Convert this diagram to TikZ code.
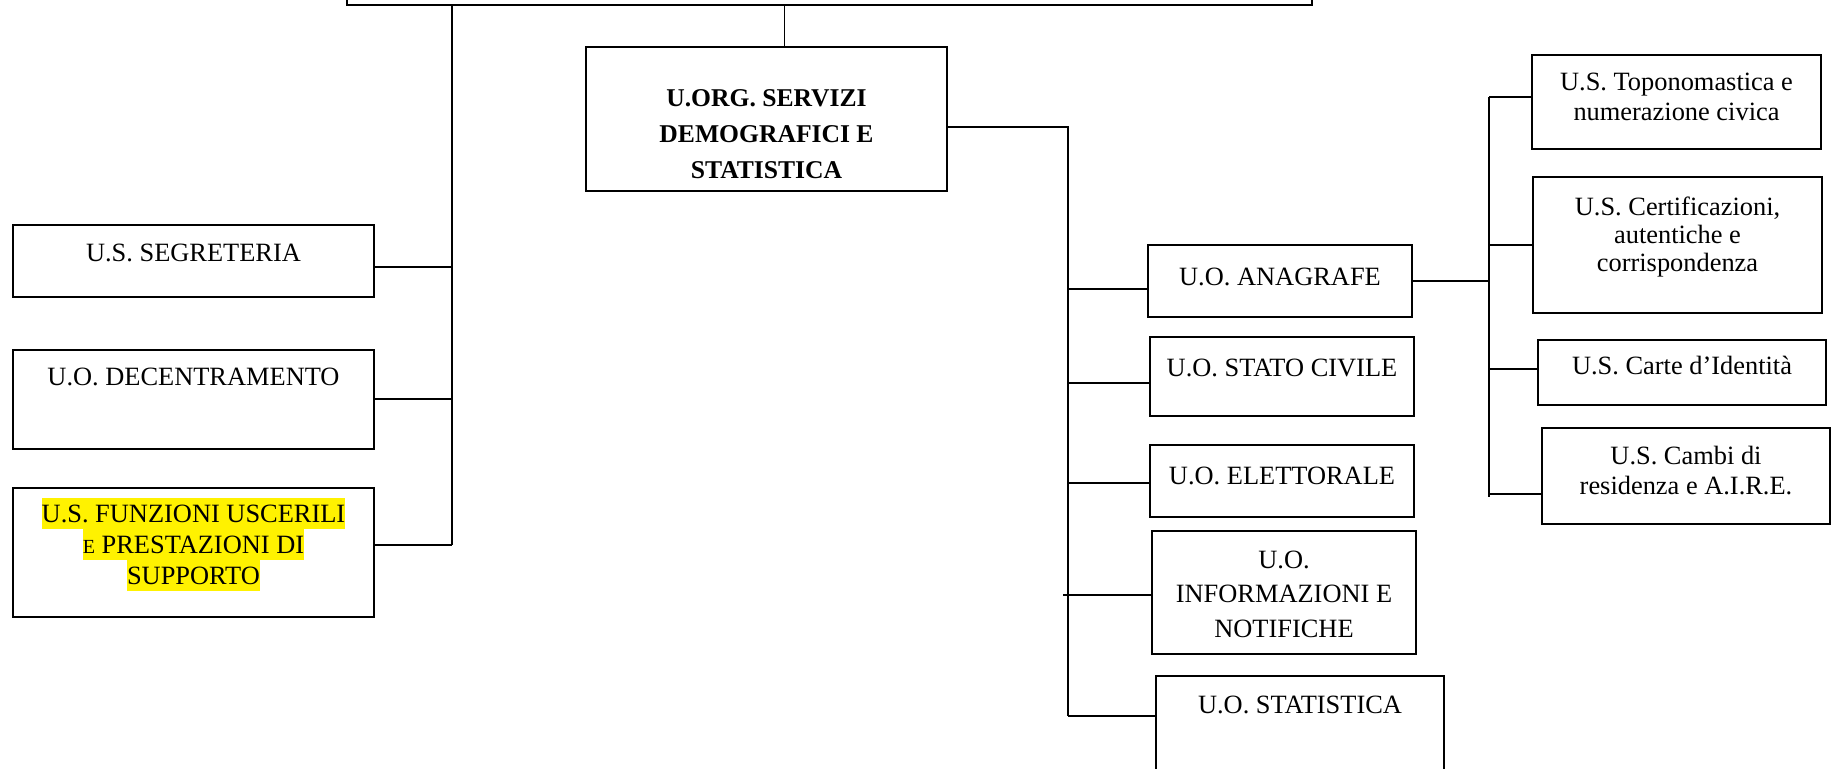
\documentclass[tikz,border=0pt]{standalone}
\usepackage{fontspec}
\setmainfont{Liberation Serif}
\usepackage{xcolor}
\usetikzlibrary{positioning, fit, calc}
\tikzset{
    ufficio/.style={rectangle, draw=black, line width=0.8pt, inner sep=0pt},
    testo/.style={anchor=base, align=center, inner sep=0pt,
        font=\fontsize{13.2}{15.5}\selectfont},
    testobold/.style={testo, font=\fontsize{12.8}{18}\selectfont\bfseries},
    linea/.style={line width=0.8pt},
}
\newcommand{\evid}[1]{{\setlength{\fboxsep}{0pt}\colorbox{yellow}{\rule[-3.5pt]{0pt}{15.5pt}#1}}}

\begin{document}
\begin{tikzpicture}[x=0.5pt, y=-0.5pt]
    \useasboundingbox (0,0) rectangle (1831,769);
    \clip (0,0) rectangle (1831,769);

    % box di vertice (tagliato in alto) e unita' organizzativa
    % (testi su piu' righe: base = ultima riga)
    \node[ufficio, fit={(347,-40) (1312,5)}] (direzione) {};
    \node[ufficio, fit={(586,47) (947,191)}] (servizi) {};
    \node[testobold] (servizi-t) at ($(servizi.north)+(0,132)$) {U.ORG. SERVIZI\\DEMOGRAFICI E\\STATISTICA};

    % colonna a sinistra
    \node[ufficio, fit={(13,225) (374,297)}] (segreteria) {};
    \node[testo] (segreteria-t) at ($(segreteria.north)+(0,37)$) {U.S. SEGRETERIA};
    \node[ufficio, fit={(13,350) (374,449)}] (decentramento) {};
    \node[testo] (decentramento-t) at ($(decentramento.north)+(0,36)$) {U.O. DECENTRAMENTO};
    \node[ufficio, fit={(13,488) (374,617)}] (funzioni) {};
    \node[testo] (funzioni-t) at ($(funzioni.north)+(0,97)$) {\evid{U.S. FUNZIONI USCERILI}\\\evid{{\fontsize{10}{12}\selectfont E} PRESTAZIONI DI}\\\evid{SUPPORTO}};

    % colonna centrale
    \node[ufficio, fit={(1148,245) (1412,317)}] (anagrafe) {};
    \node[testo] (anagrafe-t) at ($(anagrafe.north)+(0,41)$) {U.O. ANAGRAFE};
    \node[ufficio, fit={(1150,337) (1414,416)}] (statocivile) {};
    \node[testo] (statocivile-t) at ($(statocivile.north)+(0,40)$) {U.O. STATO CIVILE};
    \node[ufficio, fit={(1150,445) (1414,517)}] (elettorale) {};
    \node[testo] (elettorale-t) at ($(elettorale.north)+(0,40)$) {U.O. ELETTORALE};
    \node[ufficio, fit={(1152,531) (1416,654)}] (informazioni) {};
    \node[testo, font=\fontsize{13.2}{17.25}\selectfont] (informazioni-t) at ($(informazioni.north)+(0,107)$) {U.O.\\INFORMAZIONI E\\NOTIFICHE};
    \node[ufficio, fit={(1156,676) (1444,800)}] (statistica) {};
    \node[testo] (statistica-t) at ($(statistica.north)+(0,38)$) {U.O. STATISTICA};

    % colonna a destra (servizi dell'anagrafe)
    \node[ufficio, fit={(1532,55) (1821,149)}] (toponomastica) {};
    \node[testo, font=\fontsize{13.2}{15}\selectfont] (toponomastica-t) at ($(toponomastica.north)+(0,66)$) {U.S. Toponomastica e\\numerazione civica};
    \node[ufficio, fit={(1533,177) (1822,313)}] (certificazioni) {};
    \node[testo, font=\fontsize{13.2}{14}\selectfont] (certificazioni-t) at ($(certificazioni.north)+(0,95)$) {U.S. Certificazioni,\\autentiche e\\corrispondenza};
    \node[ufficio, fit={(1538,340) (1826,405)}] (carte) {};
    \node[testo] (carte-t) at ($(carte.north)+(0,35)$) {U.S. Carte d’Identità};
    \node[ufficio, fit={(1542,428) (1830,524)}] (cambi) {};
    \node[testo, font=\fontsize{13.2}{15}\selectfont] (cambi-t) at ($(cambi.north)+(0,67)$) {U.S. Cambi di\\residenza e A.I.R.E.};

    % collegamenti
    \coordinate (bus-sx) at (452,545);
    \coordinate (bus-dx) at (1068,716);
    \coordinate (bus-an-top) at (1489,97);
    \coordinate (bus-an) at (1489,497);

    \draw[linea] (direzione.south -| bus-sx) -- (bus-sx);
    \draw[linea] ([xshift=9pt]servizi.north) -- ([xshift=9pt]servizi.north |- direzione.south);
    \draw[linea] ([yshift=-3pt]segreteria.east) -- ([yshift=-3pt]segreteria.east -| bus-sx);
    \draw[linea] ([yshift=0.25pt]decentramento.east) -- ([yshift=0.25pt]decentramento.east -| bus-sx);
    \draw[linea] ([yshift=3.75pt]funzioni.east) -- (bus-sx);

    \draw[linea] ([yshift=-4pt]servizi.east) -| (bus-dx);
    \draw[linea] ([yshift=-4pt]anagrafe.west) -- ([yshift=-4pt]anagrafe.west -| bus-dx);
    \draw[linea] ([yshift=-3.25pt]statocivile.west) -- ([yshift=-3.25pt]statocivile.west -| bus-dx);
    \draw[linea] ([yshift=-1pt]elettorale.west) -- ([yshift=-1pt]elettorale.west -| bus-dx);
    \draw[linea] ([yshift=-1.25pt]informazioni.west) -- ([xshift=-2.5pt,yshift=-1.25pt]informazioni.west -| bus-dx);
    \draw[linea] (bus-dx) -- (bus-dx -| statistica.west);

    \draw[linea] (anagrafe.east) -- (anagrafe.east -| bus-an);
    \draw[linea] (bus-an-top) -- (bus-an);
    \draw[linea] (bus-an-top) -- (bus-an-top -| toponomastica.west);
    \draw[linea] (certificazioni.west -| bus-an) -- (certificazioni.west);
    \draw[linea] ([yshift=1.75pt]carte.west -| bus-an) -- ([yshift=1.75pt]carte.west);
    \draw[linea] ([yshift=-9pt]cambi.west -| bus-an) -- ([yshift=-9pt]cambi.west);
\end{tikzpicture}
\end{document}
